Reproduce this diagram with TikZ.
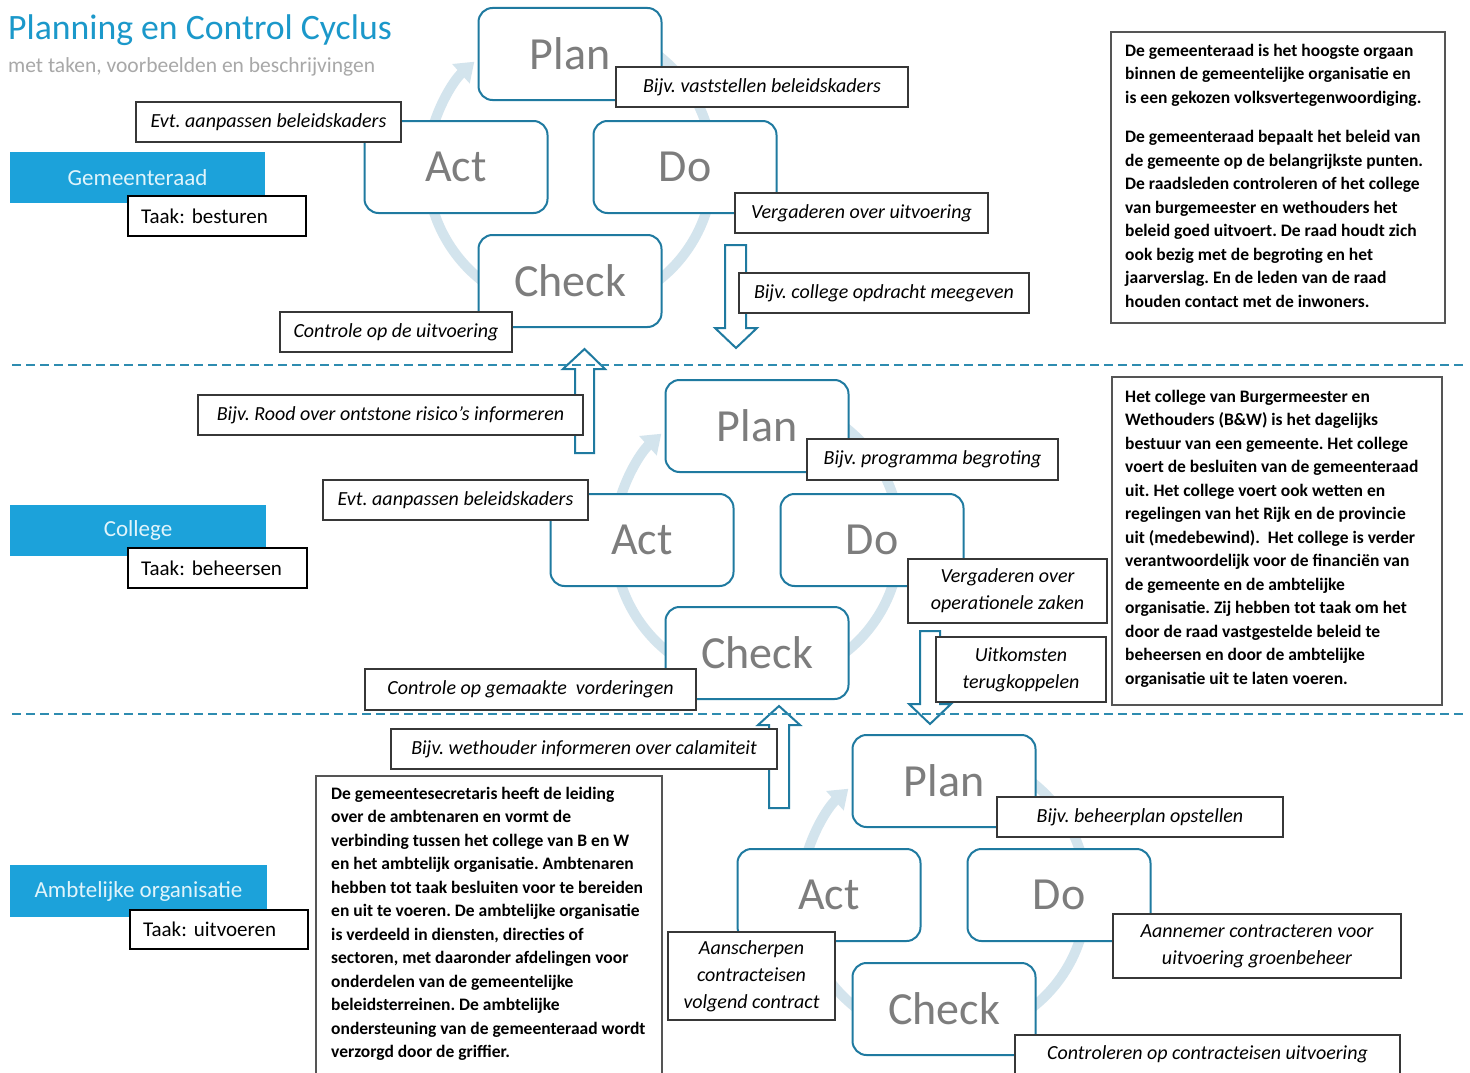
\documentclass[tikz,border=0pt]{standalone}
\usepackage{fontspec}
\setmainfont{Carlito}
\usetikzlibrary{arrows.meta}
\definecolor{titleblue}{RGB}{27,152,202}
\definecolor{subgray}{RGB}{168,168,168}
\definecolor{bandblue}{RGB}{28,162,218}
\definecolor{bandtext}{RGB}{224,244,251}
\definecolor{cycleline}{RGB}{31,122,160}
\definecolor{ringcol}{RGB}{211,228,237}
\definecolor{pdcagray}{RGB}{125,125,125}
\definecolor{dashcol}{RGB}{46,140,176}
\definecolor{lblborder}{RGB}{55,55,55}
\definecolor{descborder}{RGB}{85,85,85}
\begin{document}
\frenchspacing
\begin{tikzpicture}[x=1pt,y=-1pt,
  pdca/.style={draw=cycleline, line width=2pt, rounded corners=14pt, fill=white,
    minimum width=183pt, minimum height=92pt, text=pdcagray,
    font=\fontsize{46}{50}\selectfont, inner sep=0pt},
  lbl/.style={draw=lblborder, line width=1.5pt, fill=white,
    font=\fontsize{20}{27}\selectfont\itshape, align=center, inner sep=0pt},
  band/.style={fill=bandblue, text=bandtext, font=\fontsize{23}{26}\selectfont, inner sep=0pt},
  taak/.style={draw=black, line width=2pt, fill=white, font=\fontsize{21}{24}\selectfont,
    inner xsep=13pt, inner ysep=0pt, align=left},
  desc/.style={draw=descborder, line width=1.5pt, fill=white, inner sep=0pt},
  desctext/.style={anchor=north west, inner sep=0pt, align=left,
    font=\fontsize{17.5}{23.5}\selectfont\bfseries},
  ring/.style={draw=ringcol, line width=10pt, -{Triangle[length=18pt,width=25pt]}},
  blockarrow/.style={draw=cycleline, line width=2pt, fill=white, line join=miter},
  divider/.style={draw=dashcol, line width=1.5pt, dash pattern=on 9pt off 5pt}
]
\useasboundingbox (0,0) rectangle (1470,1073);
\clip (0,0) rectangle (1470,1073);
\fill[white] (0,0) rectangle (1470,1073);

% title
\node[anchor=base west, inner sep=0pt, text=titleblue, font=\fontsize{35.7}{40}\selectfont] (title) at (8,40) {Planning en Control Cyclus};
\node[anchor=base west, inner sep=0pt, text=subgray, font=\fontsize{21.5}{24}\selectfont] (subtitle) at (8,73) {met taken, voorbeelden en beschrijvingen};

% rings
\coordinate (c1) at (570,168);
\coordinate (c2) at (757,540);
\coordinate (c3) at (944,895);
\draw[ring] (c1) ++(-75:143) arc[start angle=-75, end angle=228, radius=143];
\draw[ring] (c2) ++(-75:143) arc[start angle=-75, end angle=228, radius=143];
\draw[ring] (c3) ++(-75:143) arc[start angle=-75, end angle=228, radius=143];

% cycle 1
\node[pdca] (p1) at (570,54) {Plan};
\node[pdca] (a1) at (456,167) {Act};
\node[pdca] (d1) at (685,167) {Do};
\node[pdca] (k1) at (570,281) {Check};
% cycle 2
\node[pdca] (p2) at (757,426) {Plan};
\node[pdca] (a2) at (642,540) {Act};
\node[pdca] (d2) at (872,540) {Do};
\node[pdca] (k2) at (757,653) {Check};
% cycle 3
\node[pdca] (p3) at (944,781) {Plan};
\node[pdca] (a3) at (829,895) {Act};
\node[pdca] (d3) at (1059,895) {Do};
\node[pdca] (k3) at (944,1009) {Check};

% block arrows
\draw[blockarrow] (725,245) -- (746,245) -- (746,328) -- (757,328) -- (736,348) -- (715,328) -- (725,328) -- cycle;
\draw[blockarrow] (575,453) -- (594,453) -- (594,369) -- (605,369) -- (584.5,349) -- (563,369) -- (575,369) -- cycle;
\draw[blockarrow] (920,631) -- (940,631) -- (940,704) -- (951,704) -- (930,724) -- (909,704) -- (920,704) -- cycle;
\draw[blockarrow] (769,808) -- (789,808) -- (789,725) -- (800,725) -- (779,706) -- (758,725) -- (769,725) -- cycle;

% dividers
\draw[divider] (12,365) -- (1465,365);
\draw[divider] (12,714) -- (1465,714);

% labels cycle 1
\node[lbl, minimum width=292pt, minimum height=40pt] (l1a) at (762,87) {Bijv. vaststellen beleidskaders};
\node[lbl, minimum width=265pt, minimum height=40pt] (l1b) at (268.5,122) {Evt. aanpassen beleidskaders};
\node[lbl, minimum width=253pt, minimum height=40pt] (l1c) at (861.5,213) {Vergaderen over uitvoering};
\node[lbl, minimum width=290pt, minimum height=40pt] (l1d) at (884,293) {Bijv. college opdracht meegeven};
\node[lbl, minimum width=232pt, minimum height=40pt] (l1e) at (396,332) {Controle op de uitvoering};
\node[lbl, minimum width=385pt, minimum height=40pt] (l2r) at (390.5,415) {Bijv. Rood over ontstone risico's informeren};
% labels cycle 2
\node[lbl, minimum width=251pt, minimum height=41pt] (l2a) at (932.5,459.5) {Bijv. programma begroting};
\node[lbl, minimum width=265pt, minimum height=40pt] (l2b) at (455.5,500) {Evt. aanpassen beleidskaders};
\node[lbl, minimum width=199pt, minimum height=64pt] (l2c) at (1007.5,591) {Vergaderen over\\operationele zaken};
\node[lbl, minimum width=170pt, minimum height=65pt] (l2d) at (1021,669.5) {Uitkomsten\\terugkoppelen};
\node[lbl, minimum width=331pt, minimum height=41pt] (l2e) at (530.5,689.5) {Controle op gemaakte\ \ vorderingen};
\node[lbl, minimum width=386pt, minimum height=40pt] (l3w) at (584,749) {Bijv. wethouder informeren over calamiteit};
% labels cycle 3
\node[lbl, minimum width=286pt, minimum height=40pt] (l3a) at (1140,817) {Bijv. beheerplan opstellen};
\node[lbl, minimum width=167pt, minimum height=88pt] (l3b) at (751.5,976) {Aanscherpen\\contracteisen\\volgend contract};
\node[lbl, minimum width=288pt, minimum height=64pt] (l3c) at (1257,946) {Aannemer contracteren voor\\uitvoering groenbeheer};
\node[lbl, minimum width=385pt, minimum height=60pt] (l3d) at (1207.5,1065) {};
\node[inner sep=0pt, font=\fontsize{20}{27}\selectfont\itshape] (l3dt) at (1207.5,1054) {Controleren op contracteisen uitvoering};

% bands
\node[band, minimum width=255pt, minimum height=51pt] (b1) at (137.5,177.5) {Gemeenteraad};
\node[band, minimum width=256pt, minimum height=51pt] (b2) at (138,530.5) {College};
\node[band, minimum width=257pt, minimum height=52pt] (b3) at (138.5,891) {Ambtelijke organisatie};
\node[taak, text width=152pt, minimum height=40pt] (t1) at (217,216) {Taak: besturen};
\node[taak, text width=153pt, minimum height=40pt] (t2) at (217.5,568) {Taak: beheersen};
\node[taak, text width=152pt, minimum height=39pt] (t3) at (219,929.5) {Taak: uitvoeren};

% description boxes
\node[desc, minimum width=334pt, minimum height=291pt] (r1) at (1278,177.5) {};
\node[desctext] (r1t) at (1125,39.5) {\strut De gemeenteraad is het hoogste orgaan\\
binnen de gemeentelijke organisatie en\\
is een gekozen volksvertegenwoordiging.\\[16pt]
De gemeenteraad bepaalt het beleid van\\
de gemeente op de belangrijkste punten.\\
De raadsleden controleren of het college\\
van burgemeester en wethouders het\\
beleid goed uitvoert. De raad houdt zich\\
ook bezig met de begroting en het\\
jaarverslag. En de leden van de raad\\
houden contact met de inwoners.};

\node[desc, minimum width=330pt, minimum height=328pt] (r2) at (1277,541) {};
\node[desctext] (r2t) at (1125,385.5) {\strut Het college van Burgermeester en\\
Wethouders (B\&W) is het dagelijks\\
bestuur van een gemeente. Het college\\
voert de besluiten van de gemeenteraad\\
uit. Het college voert ook wetten en\\
regelingen van het Rijk en de provincie\\
uit (medebewind).\ \ Het college is verder\\
verantwoordelijk voor de financiën van\\
de gemeente en de ambtelijke\\
organisatie. Zij hebben tot taak om het\\
door de raad vastgestelde beleid te\\
beheersen en door de ambtelijke\\
organisatie uit te laten voeren.};

\node[desc, minimum width=346pt, minimum height=319pt] (r3) at (489,935.5) {};
\node[desctext] (r3t) at (331,782.5) {\strut De gemeentesecretaris heeft de leiding\\
over de ambtenaren en vormt de\\
verbinding tussen het college van B en W\\
en het ambtelijk organisatie. Ambtenaren\\
hebben tot taak besluiten voor te bereiden\\
en uit te voeren. De ambtelijke organisatie\\
is verdeeld in diensten, directies of\\
sectoren, met daaronder afdelingen voor\\
onderdelen van de gemeentelijke\\
beleidsterreinen. De ambtelijke\\
ondersteuning van de gemeenteraad wordt\\
verzorgd door de griffier.};
\end{tikzpicture}
\end{document}
